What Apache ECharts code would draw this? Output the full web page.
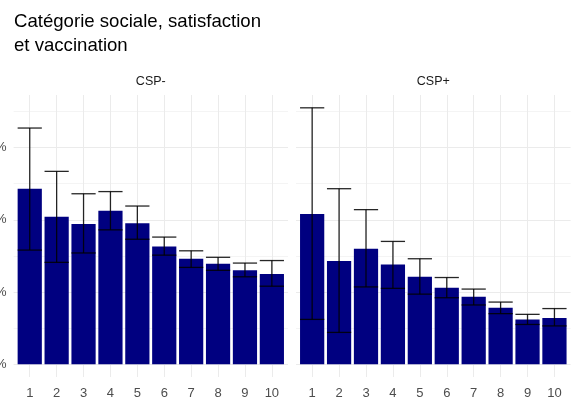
<!DOCTYPE html>
<html>
<head>
<meta charset="utf-8">
<script src="https://cdn.jsdelivr.net/npm/echarts@6/dist/echarts.min.js"></script>
<style>
  html, body { margin: 0; padding: 0; background: #ffffff; }
  #chart { width: 576px; height: 406px; }
</style>
</head>
<body>
<div id="chart"></div>
<script>
// Satisfaction score (1 to 10)
const satisfaction = [1, 2, 3, 4, 5, 6, 7, 8, 9, 10];

// Vaccination rate (%) by satisfaction, with confidence interval bounds
const cspMoins     = [24.3, 20.4, 19.4, 21.25, 19.5, 16.3, 14.6, 13.9, 13.0, 12.5];
const cspMoinsLow  = [15.8, 14.1, 15.4, 18.6, 17.3, 15.1, 13.4, 13.0, 12.1, 10.8];
const cspMoinsHigh = [32.7, 26.7, 23.6, 23.9, 21.9, 17.6, 15.7, 14.8, 14.0, 14.35];

const cspPlus      = [20.8, 14.3, 16.0, 13.8, 12.1, 10.6, 9.35, 7.8, 6.2, 6.4];
const cspPlusLow   = [6.2, 4.4, 10.7, 10.5, 9.7, 9.2, 8.2, 7.0, 5.5, 5.3];
const cspPlusHigh  = [35.5, 24.3, 21.4, 17.0, 14.6, 12.0, 10.4, 8.6, 6.9, 7.7];

// Panel names and axis breaks
const panelNames = ['CSP-', 'CSP+'];
const yGridValues = [0, 5, 10, 15, 20, 25, 30, 35];
const yLabelValues = [0, 10, 20, 30];

// Shared y range: data range padded by 5% on each side
const yTop = Math.max(...cspMoinsHigh, ...cspPlusHigh);
const yPad = yTop * 0.05;
const yMin = -yPad, yMax = yTop + yPad;

// Discrete x range padded by 0.6 of a step
const xMin = satisfaction[0] - 0.6;
const xMax = satisfaction[satisfaction.length - 1] + 0.6;

const panels = [
  { left: 13.6, width: 274.4, values: cspMoins, low: cspMoinsLow, high: cspMoinsHigh },
  { left: 296, width: 274.6, values: cspPlus, low: cspPlusLow, high: cspPlusHigh }
];
const gridTop = 95, gridHeight = 282;

const fontFamily = '"Liberation Sans", Arial, Helvetica, sans-serif';

function renderBar(params, api) {
  const x = api.value(0), y = api.value(1);
  const base = api.coord([x, 0]);
  const top = api.coord([x, y]);
  const w = api.size([0.9, 0])[0];
  return {
    type: 'rect',
    shape: { x: base[0] - w / 2, y: top[1], width: w, height: base[1] - top[1] },
    style: { fill: '#000080' }
  };
}

function renderErrorBar(params, api) {
  const x = api.value(0);
  const lo = api.coord([x, api.value(1)]);
  const hi = api.coord([x, api.value(2)]);
  const w = api.size([0.9, 0])[0];
  const style = { stroke: 'rgba(0,0,0,0.85)', lineWidth: 1.3 };
  return {
    type: 'group',
    children: [
      { type: 'line', shape: { x1: lo[0], y1: lo[1], x2: hi[0], y2: hi[1] }, style },
      { type: 'line', shape: { x1: lo[0] - w / 2, y1: lo[1], x2: lo[0] + w / 2, y2: lo[1] }, style },
      { type: 'line', shape: { x1: hi[0] - w / 2, y1: hi[1], x2: hi[0] + w / 2, y2: hi[1] }, style }
    ]
  };
}

const grid = [], xAxis = [], yAxis = [], series = [], graphic = [];

panels.forEach((p, i) => {
  grid.push({
    left: p.left, top: gridTop, width: p.width, height: gridHeight,
    containLabel: false, outerBoundsMode: 'none'
  });

  xAxis.push({
    type: 'value', gridIndex: i, min: xMin, max: xMax,
    axisLine: { show: false },
    axisTick: { show: false, customValues: satisfaction },
    axisLabel: {
      customValues: satisfaction, margin: 10,
      color: '#4d4d4d', fontSize: 13, fontFamily
    },
    splitLine: { show: true, lineStyle: { color: '#ebebeb', width: 1 } }
  });

  yAxis.push({
    type: 'value', gridIndex: i, min: yMin, max: yMax,
    axisLine: { show: false },
    axisTick: { show: false, customValues: yGridValues },
    axisLabel: {
      show: i === 0, customValues: yLabelValues, margin: 7,
      formatter: '{value}%', color: '#4d4d4d', fontSize: 13, fontFamily
    },
    splitLine: { show: true, lineStyle: { color: ['#ebebeb', '#f4f4f4'], width: 1 } }
  });

  series.push({
    type: 'custom', xAxisIndex: i, yAxisIndex: i,
    renderItem: renderBar,
    data: satisfaction.map((s, k) => [s, p.values[k]]),
    silent: true
  });
  series.push({
    type: 'custom', xAxisIndex: i, yAxisIndex: i,
    renderItem: renderErrorBar,
    data: satisfaction.map((s, k) => [s, p.low[k], p.high[k]]),
    silent: true, z: 3
  });

  graphic.push({
    type: 'text',
    x: p.left + p.width / 2, y: 82,
    style: {
      text: panelNames[i], fill: '#1a1a1a', font: '12.5px ' + fontFamily,
      align: 'center', verticalAlign: 'middle'
    }
  });
});

const chart = echarts.init(document.getElementById('chart'), null, { renderer: 'canvas' });
chart.setOption({
  backgroundColor: '#ffffff',
  animation: false,
  title: {
    text: 'Catégorie sociale, satisfaction\net vaccination',
    left: 14, top: 10, padding: 0,
    textStyle: { color: '#000000', fontSize: 18.6, lineHeight: 24, fontWeight: 'normal', fontFamily }
  },
  grid, xAxis, yAxis, series, graphic
});
</script>
</body>
</html>
